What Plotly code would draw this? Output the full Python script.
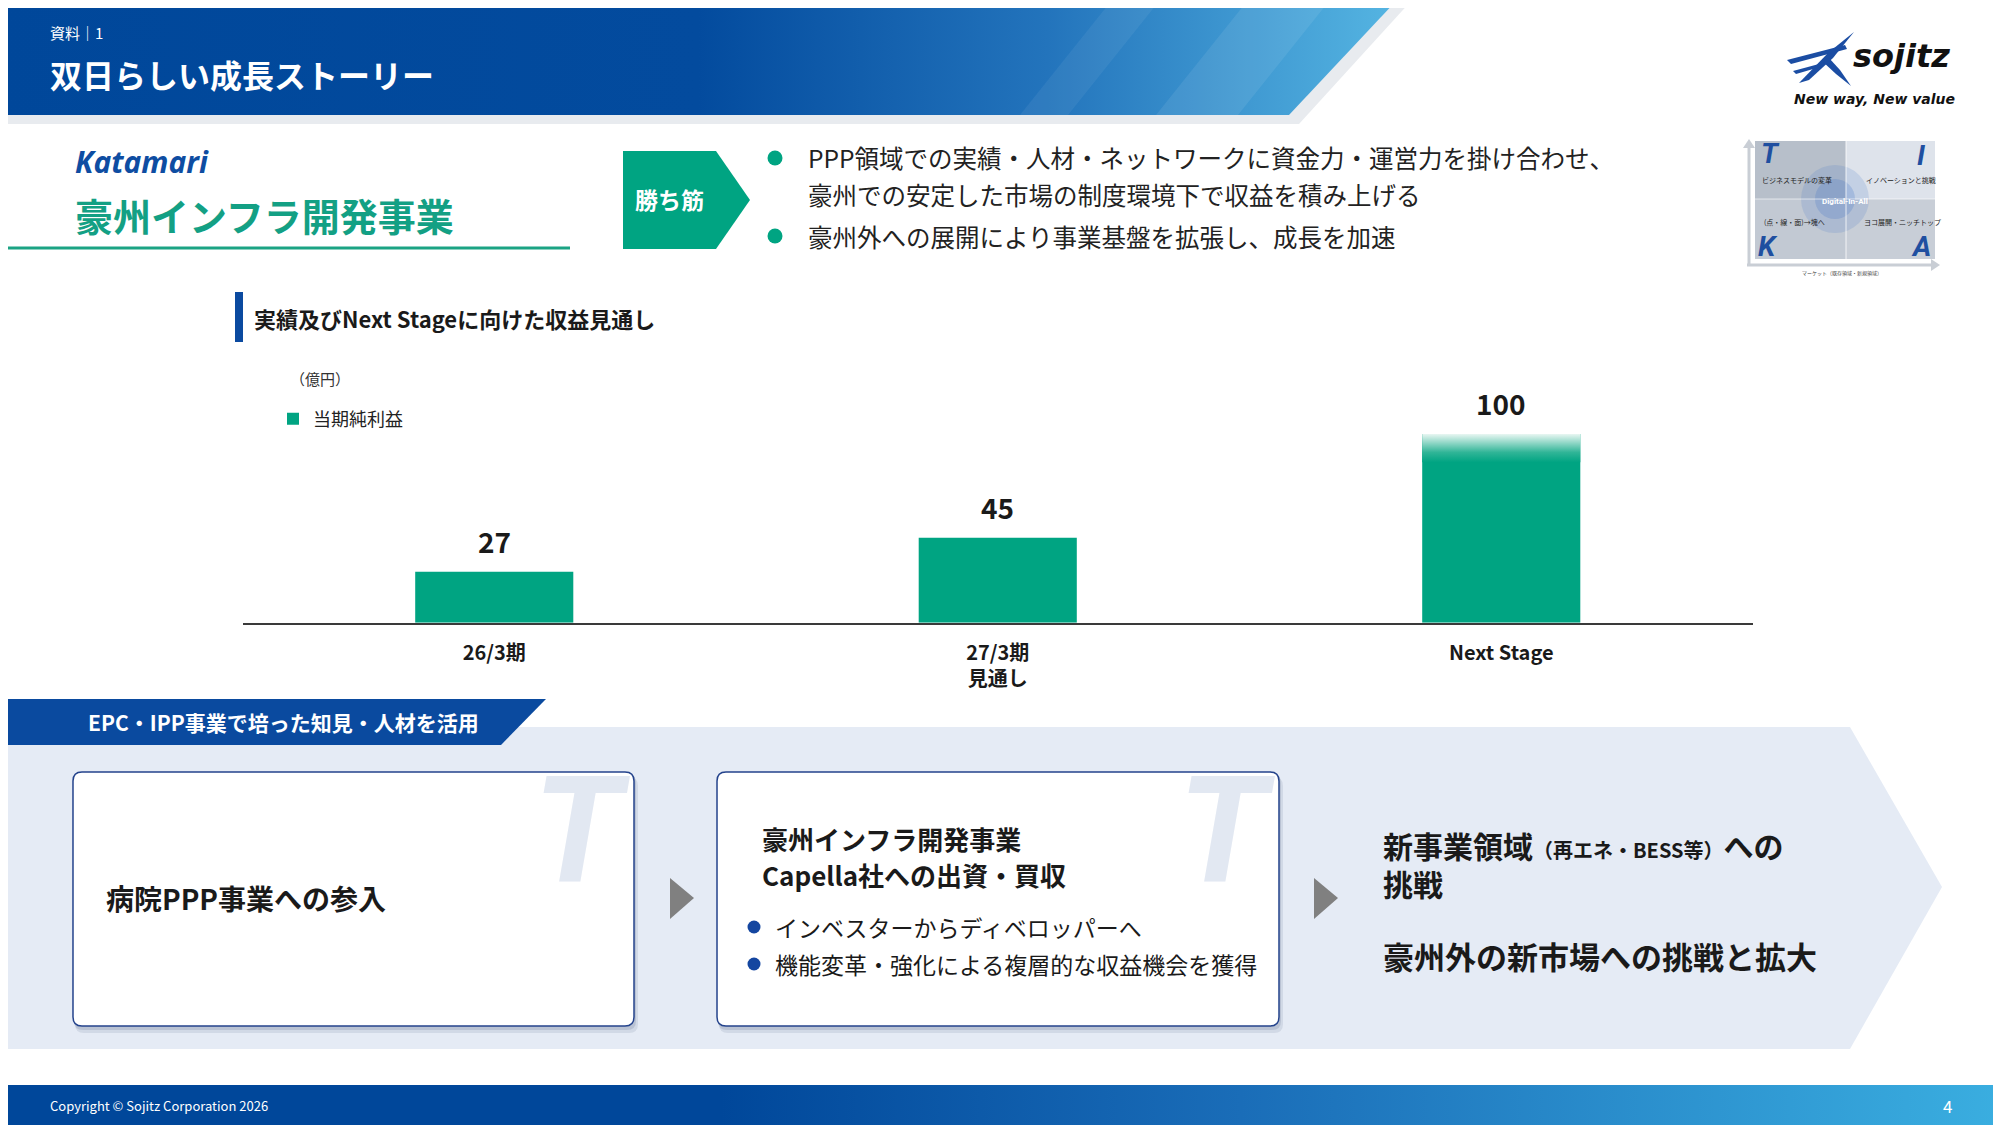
import plotly.graph_objects as go

# The page body has an 8px default margin: the figure is sized so that the
# page coordinates used below (2001x1125 frame) land where they belong.
PAGE_W, PAGE_H = 2001, 1125
OFF = 8
W, H = PAGE_W - OFF, PAGE_H - OFF

# ---------------- data ----------------
categories = ["26/3期", "27/3期<br>見通し", "Next Stage"]
profit = [27, 45, 100]
value_labels = ["27", "45", "100"]
series_name = "当期純利益"
unit_label = "（億円）"

# ---------------- style ----------------
GREEN = "#00A482"
GREEN_T = "#13A084"
BLUE = "#0B4AA0"
DARK = "#1A1A1A"
FONT = "Noto Sans CJK JP"


def fx(x):
    return (x - OFF) / W


def fy(y):
    return 1 - (y - OFF) / H


def poly(pts):
    return "M " + " L ".join(f"{fx(x):.5f},{fy(y):.5f}" for x, y in pts) + " Z"


def rrect(x0, y0, x1, y1, r):
    p = [
        f"M {fx(x0 + r):.5f},{fy(y0):.5f}",
        f"L {fx(x1 - r):.5f},{fy(y0):.5f}",
        f"Q {fx(x1):.5f},{fy(y0):.5f} {fx(x1):.5f},{fy(y0 + r):.5f}",
        f"L {fx(x1):.5f},{fy(y1 - r):.5f}",
        f"Q {fx(x1):.5f},{fy(y1):.5f} {fx(x1 - r):.5f},{fy(y1):.5f}",
        f"L {fx(x0 + r):.5f},{fy(y1):.5f}",
        f"Q {fx(x0):.5f},{fy(y1):.5f} {fx(x0):.5f},{fy(y1 - r):.5f}",
        f"L {fx(x0):.5f},{fy(y0 + r):.5f}",
        f"Q {fx(x0):.5f},{fy(y0):.5f} {fx(x0 + r):.5f},{fy(y0):.5f}",
        "Z",
    ]
    return " ".join(p)


fig = go.Figure()
shapes = []
anns = []


def shape_path(path, fill, line_color=None, line_width=0, layer="below"):
    shapes.append(dict(type="path", path=path, xref="paper", yref="paper",
                       fillcolor=fill, layer=layer,
                       line=dict(color=line_color or "rgba(0,0,0,0)", width=line_width)))


def shape_circle(cx, cy, r, fill, layer="below"):
    shapes.append(dict(type="circle", xref="paper", yref="paper",
                       x0=fx(cx - r), x1=fx(cx + r), y0=fy(cy + r), y1=fy(cy - r),
                       fillcolor=fill, line=dict(width=0), layer=layer))


def shape_line(x0, y0, x1, y1, color, width, layer="below"):
    shapes.append(dict(type="line", xref="paper", yref="paper",
                       x0=fx(x0), x1=fx(x1), y0=fy(y0), y1=fy(y1),
                       line=dict(color=color, width=width), layer=layer))


def txt(x, y, text, size, color=DARK, xanchor="left", yanchor="middle",
        bold=False, italic=False, family=FONT):
    anns.append(dict(x=fx(x), y=fy(y), xref="paper", yref="paper", text=text,
                     showarrow=False, xanchor=xanchor, yanchor=yanchor, align="left",
                     font=dict(size=size, color=color, family=family,
                               weight="bold" if bold else "normal",
                               style="italic" if italic else "normal")))


# ---------------- bar chart ----------------
positions = list(range(len(categories)))
bar_w = 0.314
fig.add_trace(go.Bar(x=positions, y=profit, width=bar_w, name=series_name,
                     marker=dict(color=GREEN, line=dict(width=0)),
                     hoverinfo="skip", showlegend=True))

# fading top of the last (outlook) bar
i_last, v_last = positions[-1], profit[-1]
fade = 15
fig.add_trace(go.Scatter(
    x=[i_last - bar_w / 2, i_last + bar_w / 2, i_last + bar_w / 2, i_last - bar_w / 2, i_last - bar_w / 2],
    y=[v_last - fade, v_last - fade, v_last, v_last, v_last - fade],
    mode="lines", line=dict(width=0, color="rgba(0,0,0,0)"), fill="toself",
    fillgradient=dict(type="vertical",
                      colorscale=[[0, GREEN], [0.35, "#30B597"], [1, "#E8F6F2"]]),
    hoverinfo="skip", showlegend=False))

for i, v, t in zip(positions, profit, value_labels):
    anns.append(dict(x=i, y=v, xref="x", yref="y", text=f"<b>{t}</b>", showarrow=False,
                     yanchor="bottom", yshift=9,
                     font=dict(size=28, color=DARK, family=FONT)))

# ---------------- header / footer gradients (pixel overlay axes) ----------------
shape_path(poly([(0, 0), (1412, 0), (1299, 124), (0, 124)]), "#E8EBEF")
fig.add_trace(go.Scatter(
    x=[0, 1397, 1289, 0, 0], y=[0, 0, 115, 115, 0], xaxis="x2", yaxis="y2",
    mode="lines", line=dict(width=0, color="rgba(0,0,0,0)"), fill="toself",
    fillgradient=dict(type="horizontal",
                      colorscale=[[0, "#00479A"], [0.5, "#034B9E"], [0.75, "#2374BC"], [1, "#55B5E2"]]),
    hoverinfo="skip", showlegend=False))
for pts, a in [([(1112, 0), (1160, 0), (1068, 115), (1020, 115)], 0.06),
               ([(1248, 0), (1330, 0), (1238, 115), (1156, 115)], 0.08)]:
    fig.add_trace(go.Scatter(
        x=[p[0] for p in pts] + [pts[0][0]], y=[p[1] for p in pts] + [pts[0][1]],
        xaxis="x2", yaxis="y2", mode="lines", line=dict(width=0, color="rgba(0,0,0,0)"),
        fill="toself", fillcolor=f"rgba(255,255,255,{a})", hoverinfo="skip", showlegend=False))

fig.add_trace(go.Scatter(
    x=[0, PAGE_W, PAGE_W, 0, 0], y=[1085, 1085, PAGE_H, PAGE_H, 1085], xaxis="x2", yaxis="y2",
    mode="lines", line=dict(width=0, color="rgba(0,0,0,0)"), fill="toself",
    fillgradient=dict(type="horizontal",
                      colorscale=[[0, "#00479A"], [0.36, "#00479A"], [0.62, "#1A6DB8"], [1, "#3AAEE0"]]),
    hoverinfo="skip", showlegend=False))

# ---------------- header texts ----------------
txt(48, 33, "資料｜1", 15, "white")
txt(48, 74, "双日らしい成長ストーリー", 32, "white", bold=True)

# sojitz logo
for pts in [
    [(1787, 60), (1845, 45), (1847, 49), (1791, 64)],
    [(1793, 71), (1819, 64), (1820, 67), (1796, 74)],
    [(1854, 32), (1828, 53), (1799, 83), (1809, 80), (1833, 58)],
    [(1822, 61), (1836, 74), (1851, 86), (1840, 70), (1829, 58)],
]:
    shape_path(poly(pts), "#1B4DA3")
txt(1851, 56, "sojitz", 32, "#111", bold=True, italic=True, family="DejaVu Sans")
txt(1792, 99, "New way, New value", 14, "#111", bold=True, italic=True, family="DejaVu Sans")

# TKIA thumbnail
shape_path(poly([(1755, 141), (1846, 141), (1846, 199), (1755, 199)]), "#B7BFCA")
shape_path(poly([(1846, 141), (1935, 141), (1935, 199), (1846, 199)]), "#DEE3EB")
shape_path(poly([(1755, 199), (1846, 199), (1846, 259), (1755, 259)]), "#C2C9D3")
shape_path(poly([(1846, 199), (1935, 199), (1935, 259), (1846, 259)]), "#C8CED7")
shape_circle(1835, 199, 34, "rgba(70,120,200,0.18)")
shape_circle(1835, 199, 20, "rgba(70,120,200,0.25)")
shape_line(1846, 141, 1846, 259, "rgba(255,255,255,0.8)", 1)
shape_line(1755, 199, 1935, 199, "rgba(255,255,255,0.6)", 1)
shape_line(1749, 266, 1749, 147, "#C9CED5", 3)
shape_path(poly([(1743, 148), (1749, 139), (1755, 148)]), "#C9CED5")
shape_line(1747, 265, 1932, 265, "#C9CED5", 3)
shape_path(poly([(1931, 259), (1940, 265), (1931, 271)]), "#C9CED5")
for (lx, ly, L) in [(1770, 154, "T"), (1921, 156, "I"), (1768, 246, "K"), (1921, 246, "A")]:
    txt(lx, ly, L, 28, "#1F4FA0", xanchor="center", bold=True, italic=True, family="Roboto")
txt(1760, 180, "ビジネスモデルの変革", 7, "#222")
txt(1864, 180, "イノベーションと挑戦", 7, "#222")
txt(1820, 201, "Digital-In-All", 8, "white", bold=True, family="Roboto")
txt(1762, 222, "(点・線・面)→塊へ", 7, "#222")
txt(1862, 222, "ヨコ展開・ニッチトップ", 7, "#222")
txt(1842, 273, "マーケット（既存領域・新規領域）", 5, "#444", xanchor="center")

# ---------------- business title block ----------------
txt(73, 161, "Katamari", 30, "#0E4DA2", bold=True, italic=True, family="Open Sans")
txt(73, 214, "豪州インフラ開発事業", 38, GREEN_T, bold=True)
shape_line(0, 248, 570, 248, "#1BA384", 3)
shape_path(poly([(623, 151), (716, 151), (750, 200), (716, 249), (623, 249)]), GREEN)
txt(669, 199, "勝ち筋", 23, "white", xanchor="center", bold=True)
shape_circle(775, 158, 7.5, GREEN)
shape_circle(775, 236, 7.5, GREEN)
txt(806, 158, "PPP領域での実績・人材・ネットワークに資金力・運営力を掛け合わせ、", 24.5, "#222")
txt(806, 194, "豪州での安定した市場の制度環境下で収益を積み上げる", 24.5, "#222")
txt(806, 236, "豪州外への展開により事業基盤を拡張し、成長を加速", 24.5, "#222")

# ---------------- chart heading ----------------
shape_path(poly([(235, 292), (243, 292), (243, 342), (235, 342)]), BLUE)
txt(252, 318, "実績及びNext Stageに向けた収益見通し", 22, DARK, bold=True)
txt(288, 378, unit_label, 15, "#333")

# ---------------- bottom flow ----------------
shape_path(poly([(0, 727), (1850, 727), (1942, 887), (1850, 1049), (0, 1049)]), "#E5EBF5")
shape_path(poly([(0, 699), (546, 699), (501, 745), (0, 745)]), "#0A4A9F")
txt(86, 722, "EPC・IPP事業で培った知見・人材を活用", 21, "white", bold=True)

for (x0, x1) in [(73, 634), (717, 1279)]:
    shape_path(rrect(x0 + 2, 777, x1 + 4, 1033, 9), "rgba(40,60,100,0.10)")
    shape_path(rrect(x0 + 1, 774, x1 + 2, 1030, 9), "rgba(40,60,100,0.14)")
    shape_path(rrect(x0, 772, x1, 1026, 9), "white", "#24438C", 1.5)
    txt(x1 - 53, 830, "T", 148, "#E2E8F2", xanchor="center", bold=True, italic=True,
        family="Roboto")

for ax in [670, 1314]:
    shape_path(poly([(ax, 878), (ax + 24, 898), (ax, 919)]), "#808080")

txt(104, 898, "病院PPP事業への参入", 28, DARK, bold=True)

txt(760, 838, "豪州インフラ開発事業", 26, DARK, bold=True)
txt(760, 874, "Capella社への出資・買収", 26, DARK, bold=True)
shape_circle(754, 927, 6.5, "#1446A0")
shape_circle(754, 964, 6.5, "#1446A0")
txt(773, 927, "インベスターからディベロッパーへ", 23, DARK)
txt(773, 964, "機能変革・強化による複層的な収益機会を獲得", 23, DARK)

txt(1381, 845, "新事業領域<span style='font-size:20px'>（再エネ・BESS等）</span>への", 30, DARK, bold=True)
txt(1381, 883, "挑戦", 30, DARK, bold=True)
txt(1381, 956, "豪州外の新市場への挑戦と拡大", 31, DARK, bold=True)

# ---------------- footer ----------------
txt(48, 1105, "Copyright © Sojitz Corporation 2026", 13, "white")
shape_line(1903, 1091, 1903, 1119, "rgba(255,255,255,0.7)", 1)
txt(1947, 1105, "4", 17, "white", xanchor="center")

# ---------------- layout ----------------
fig.update_layout(
    width=W, height=H, margin=dict(l=0, r=0, t=0, b=0),
    paper_bgcolor="white", plot_bgcolor="rgba(0,0,0,0)",
    font=dict(family=FONT, color=DARK),
    showlegend=True,
    legend=dict(x=fx(273), y=fy(419), xanchor="left", yanchor="middle",
                bgcolor="rgba(0,0,0,0)", itemwidth=30,
                font=dict(size=18, color="#222", family=FONT)),
    xaxis=dict(domain=[fx(242.5), fx(1753)], range=[-0.5, len(categories) - 0.5],
               tickmode="array", tickvals=positions, ticktext=categories,
               showline=True, linecolor="#3A3A3A", linewidth=1.6,
               showgrid=False, zeroline=False, ticks="", ticklabelstandoff=11,
               tickfont=dict(size=20, color=DARK, family=FONT, weight="bold"),
               fixedrange=True),
    yaxis=dict(domain=[fy(622.7), fy(377.4)], range=[0, 130], visible=False,
               fixedrange=True),
    xaxis2=dict(domain=[0, 1], range=[OFF, PAGE_W], visible=False, anchor="y2", fixedrange=True),
    yaxis2=dict(domain=[0, 1], range=[PAGE_H, OFF], visible=False, anchor="x2", fixedrange=True),
    shapes=shapes,
    annotations=anns,
)

fig.write_html("out.html")
